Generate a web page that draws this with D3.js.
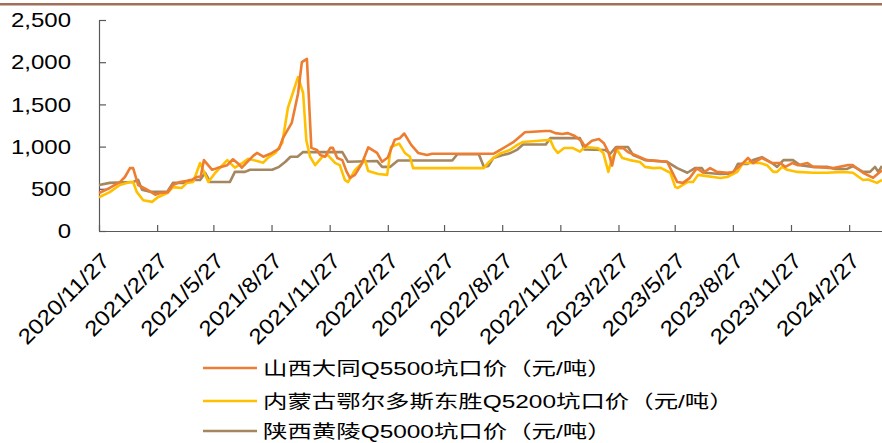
<!DOCTYPE html>
<html>
<head>
<meta charset="utf-8">
<script src="https://cdn.jsdelivr.net/npm/d3@7"></script>
<style>
  html, body { margin: 0; padding: 0; background: #fff; }
  svg { display: block; }
  text { font-family: "Liberation Sans", Arial, "Noto Sans CJK SC", sans-serif; fill: #000; }
</style>
</head>
<body>
<div id="chart"></div>
<script>
"use strict";

// weekly pit-head prices (yuan / ton)
const datongData = [
  ["2020-11-27", 450], ["2020-12-14", 510], ["2020-12-30", 580], ["2021-01-07", 640],
  ["2021-01-15", 745], ["2021-01-20", 745], ["2021-01-28", 545], ["2021-02-11", 490],
  ["2021-02-24", 430], ["2021-03-04", 450], ["2021-03-16", 460], ["2021-03-24", 545],
  ["2021-04-04", 580], ["2021-04-23", 605], ["2021-05-01", 640], ["2021-05-07", 645],
  ["2021-05-12", 840], ["2021-05-25", 725], ["2021-06-02", 745], ["2021-06-18", 780],
  ["2021-06-27", 850], ["2021-07-05", 800], ["2021-07-11", 750], ["2021-07-29", 890],
  ["2021-08-04", 925], ["2021-08-14", 880], ["2021-08-25", 915], ["2021-09-08", 975],
  ["2021-09-14", 1100], ["2021-09-28", 1280], ["2021-10-08", 1630], ["2021-10-14", 2000],
  ["2021-10-22", 2040], ["2021-10-29", 985], ["2021-11-07", 960], ["2021-11-12", 900],
  ["2021-11-20", 880], ["2021-11-28", 985], ["2021-12-02", 985], ["2021-12-09", 865],
  ["2021-12-17", 840], ["2021-12-24", 700], ["2021-12-29", 630], ["2022-01-06", 665],
  ["2022-01-09", 700], ["2022-01-17", 800], ["2022-01-27", 990], ["2022-02-10", 925],
  ["2022-02-18", 820], ["2022-02-27", 870], ["2022-03-10", 1080], ["2022-03-18", 1100],
  ["2022-03-25", 1155], ["2022-04-05", 1020], ["2022-04-16", 925], ["2022-04-30", 900],
  ["2022-05-08", 915], ["2022-08-13", 915], ["2022-08-24", 960], ["2022-09-04", 1010],
  ["2022-09-13", 1050], ["2022-09-21", 1100], ["2022-10-02", 1170], ["2022-11-03", 1185],
  ["2022-11-11", 1185], ["2022-11-19", 1160], ["2022-11-30", 1150], ["2022-12-09", 1160],
  ["2022-12-20", 1125], ["2022-12-31", 1060], ["2023-01-05", 1000], ["2023-01-16", 1070],
  ["2023-01-27", 1090], ["2023-02-04", 1040], ["2023-02-11", 935], ["2023-02-17", 775],
  ["2023-02-23", 980], ["2023-03-06", 985], ["2023-03-14", 935], ["2023-03-25", 900],
  ["2023-04-13", 840], ["2023-05-15", 820], ["2023-05-31", 580], ["2023-06-09", 570],
  ["2023-06-20", 630], ["2023-07-01", 745], ["2023-07-11", 690], ["2023-07-22", 745],
  ["2023-08-02", 700], ["2023-08-18", 690], ["2023-08-27", 700], ["2023-09-12", 805],
  ["2023-09-20", 865], ["2023-09-28", 805], ["2023-10-12", 865], ["2023-10-28", 805],
  ["2023-11-10", 805], ["2023-11-18", 760], ["2023-11-29", 805], ["2023-12-08", 780],
  ["2023-12-23", 805], ["2024-01-01", 760], ["2024-02-02", 745], ["2024-02-24", 780],
  ["2024-03-04", 780], ["2024-03-20", 690], ["2024-04-05", 630], ["2024-04-19", 720]
];

const dongshengData = [
  ["2020-11-27", 400], ["2020-12-14", 460], ["2020-12-30", 545], ["2021-01-15", 580],
  ["2021-01-20", 580], ["2021-01-26", 460], ["2021-02-05", 365], ["2021-02-19", 345],
  ["2021-02-28", 400], ["2021-03-15", 450], ["2021-03-24", 520], ["2021-04-07", 510],
  ["2021-04-15", 570], ["2021-04-25", 580], ["2021-05-06", 805], ["2021-05-19", 580],
  ["2021-05-30", 690], ["2021-06-18", 840], ["2021-06-30", 750], ["2021-07-11", 800],
  ["2021-07-21", 855], ["2021-08-04", 830], ["2021-08-14", 810], ["2021-08-21", 865],
  ["2021-09-02", 925], ["2021-09-13", 1045], ["2021-09-22", 1460], ["2021-10-08", 1825],
  ["2021-10-16", 1635], ["2021-10-21", 1080], ["2021-10-27", 880], ["2021-11-04", 780],
  ["2021-11-15", 875], ["2021-11-24", 900], ["2021-12-06", 805], ["2021-12-13", 780],
  ["2021-12-21", 605], ["2021-12-26", 580], ["2022-01-06", 720], ["2022-01-14", 780],
  ["2022-01-22", 840], ["2022-01-27", 710], ["2022-02-12", 675], ["2022-02-26", 665],
  ["2022-03-04", 995], ["2022-03-17", 1035], ["2022-03-26", 925], ["2022-04-03", 880],
  ["2022-04-08", 745], ["2022-07-29", 745], ["2022-08-05", 810], ["2022-08-13", 865],
  ["2022-08-24", 920], ["2022-09-08", 960], ["2022-09-20", 1020], ["2022-09-29", 1055],
  ["2022-11-03", 1075], ["2022-11-11", 1080], ["2022-11-17", 980], ["2022-11-23", 925],
  ["2022-12-03", 983], ["2022-12-17", 983], ["2022-12-28", 940], ["2023-01-05", 995],
  ["2023-01-26", 980], ["2023-02-03", 925], ["2023-02-11", 700], ["2023-02-17", 870],
  ["2023-02-25", 960], ["2023-03-05", 865], ["2023-03-17", 840], ["2023-04-02", 818],
  ["2023-04-10", 760], ["2023-04-23", 745], ["2023-05-04", 750], ["2023-05-20", 690],
  ["2023-05-28", 520], ["2023-06-01", 510], ["2023-06-16", 580], ["2023-06-25", 580],
  ["2023-07-03", 665], ["2023-07-17", 650], ["2023-07-27", 640], ["2023-08-07", 628],
  ["2023-08-18", 640], ["2023-09-03", 700], ["2023-09-12", 805], ["2023-09-27", 805],
  ["2023-10-09", 805], ["2023-10-20", 780], ["2023-10-30", 700], ["2023-11-05", 700],
  ["2023-11-13", 760], ["2023-11-21", 725], ["2023-12-07", 700], ["2024-01-01", 690],
  ["2024-01-23", 690], ["2024-02-18", 700], ["2024-03-04", 690], ["2024-03-20", 605],
  ["2024-03-28", 610], ["2024-04-11", 570], ["2024-04-19", 605]
];

const huanglingData = [
  ["2020-11-27", 545], ["2020-12-14", 570], ["2021-01-20", 580], ["2021-01-28", 605],
  ["2021-02-03", 490], ["2021-02-16", 465], ["2021-03-15", 465], ["2021-03-24", 570],
  ["2021-04-12", 570], ["2021-04-20", 605], ["2021-05-06", 605], ["2021-05-14", 690],
  ["2021-05-22", 580], ["2021-06-22", 580], ["2021-06-30", 700], ["2021-07-16", 700],
  ["2021-07-24", 725], ["2021-08-28", 725], ["2021-09-08", 760], ["2021-09-18", 820],
  ["2021-09-26", 880], ["2021-10-07", 880], ["2021-10-16", 935], ["2021-12-17", 935],
  ["2021-12-26", 820], ["2022-02-10", 830], ["2022-02-18", 760], ["2022-03-03", 760],
  ["2022-03-15", 835], ["2022-06-09", 835], ["2022-06-17", 910], ["2022-07-21", 910],
  ["2022-07-29", 760], ["2022-08-05", 770], ["2022-08-13", 865], ["2022-08-28", 900],
  ["2022-09-08", 920], ["2022-09-20", 965], ["2022-09-29", 1025], ["2022-11-04", 1025],
  ["2022-11-11", 1100], ["2022-12-28", 1100], ["2023-01-04", 965], ["2023-02-06", 960],
  ["2023-02-14", 915], ["2023-02-23", 995], ["2023-03-14", 995], ["2023-03-22", 900],
  ["2023-03-30", 875], ["2023-04-10", 840], ["2023-05-15", 820], ["2023-05-31", 745],
  ["2023-06-16", 690], ["2023-06-28", 745], ["2023-07-09", 745], ["2023-07-14", 690],
  ["2023-08-07", 675], ["2023-08-27", 680], ["2023-09-04", 795], ["2023-09-19", 795],
  ["2023-09-28", 840], ["2023-10-12", 875], ["2023-10-28", 805], ["2023-11-05", 760],
  ["2023-11-15", 840], ["2023-11-30", 840], ["2023-12-11", 780], ["2024-01-01", 760],
  ["2024-01-23", 760], ["2024-02-05", 735], ["2024-02-24", 735], ["2024-03-04", 770],
  ["2024-03-20", 700], ["2024-03-31", 700], ["2024-04-08", 760], ["2024-04-13", 700],
  ["2024-04-19", 770]
];

const seriesNames = [
  "山西大同Q5500坑口价（元/吨）",
  "内蒙古鄂尔多斯东胜Q5200坑口价（元/吨）",
  "陕西黄陵Q5000坑口价（元/吨）"
];
const seriesColors = ["#ED7D31", "#FFC000", "#A5875F"];

const tickDates = [
  "2020-11-27", "2021-02-27", "2021-05-27", "2021-08-27", "2021-11-27", "2022-02-27",
  "2022-05-27", "2022-08-27", "2022-11-27", "2023-02-27", "2023-05-27", "2023-08-27",
  "2023-11-27", "2024-02-27"
];
const yTicks = [0, 500, 1000, 1500, 2000, 2500];

const width = 882, height = 443;

const parse = d3.timeParse("%Y-%m-%d");
const fmtTick = d3.timeFormat("%Y/%-m/%-d");
const fmtY = d3.format(",");

const svg = d3.select("#chart").append("svg")
  .attr("width", width)
  .attr("height", height);

// brown rule across the top
svg.append("rect")
  .attr("x", 0).attr("y", 3)
  .attr("width", width).attr("height", 2.5)
  .attr("fill", "#A07058");

const x = d3.scaleTime()
  .domain([parse("2020-11-27"), parse("2024-04-19")])
  .range([99, 882]);

const y = d3.scaleLinear()
  .domain([0, 2500])
  .range([231, 20]);

// axes (ticks point inwards)
svg.append("g")
  .attr("transform", "translate(0," + y(0) + ")")
  .call(d3.axisBottom(x)
    .tickValues(tickDates.map(parse))
    .tickSize(-6)
    .tickSizeOuter(0)
    .tickFormat(""));

svg.append("g")
  .attr("transform", "translate(" + x.range()[0] + ",0)")
  .call(d3.axisLeft(y)
    .tickValues(yTicks)
    .tickSize(-7)
    .tickSizeOuter(0)
    .tickFormat(""));

svg.selectAll(".domain, .tick line")
  .attr("stroke", "#595959")
  .attr("stroke-width", 1.2);

// y labels (glyphs in the picture are a little wide)
svg.append("g").selectAll("text")
  .data(yTicks)
  .enter()
  .append("text")
  .attr("transform", d => "translate(71," + y(d) + ") scale(1.2,1)")
  .attr("text-anchor", "end")
  .attr("dy", "0.36em")
  .style("font-size", "20px")
  .text(d => fmtY(d));

// x labels, rotated
svg.append("g").selectAll("text")
  .data(tickDates.map(parse))
  .enter()
  .append("text")
  .attr("transform", d => "translate(" + (x(d) + 1) + ",251) rotate(-45) scale(1.12,1)")
  .attr("text-anchor", "end")
  .attr("dy", "0.72em")
  .style("font-size", "21.5px")
  .text(d => fmtTick(d));

// lines
const line = d3.line()
  .x(d => x(parse(d[0])))
  .y(d => y(d[1]));

const allSeries = [datongData, dongshengData, huanglingData];

// brown first, orange last on top
[2, 1, 0].forEach(i => {
  svg.append("path")
    .datum(allSeries[i])
    .attr("fill", "none")
    .attr("stroke", seriesColors[i])
    .attr("stroke-width", 2.6)
    .attr("stroke-linejoin", "round")
    .attr("d", line);
});

// legend
const legendY = [368, 401, 431];
const legend = svg.append("g");
seriesNames.forEach((name, i) => {
  legend.append("line")
    .attr("x1", 203).attr("x2", 257)
    .attr("y1", legendY[i]).attr("y2", legendY[i])
    .attr("stroke", seriesColors[i])
    .attr("stroke-width", 2.6);
  legend.append("text")
    .attr("transform", "translate(263," + legendY[i] + ") scale(1.32,1)")
    .attr("dy", "0.36em")
    .style("font-size", "18.5px")
    .text(name);
});
</script>
</body>
</html>
